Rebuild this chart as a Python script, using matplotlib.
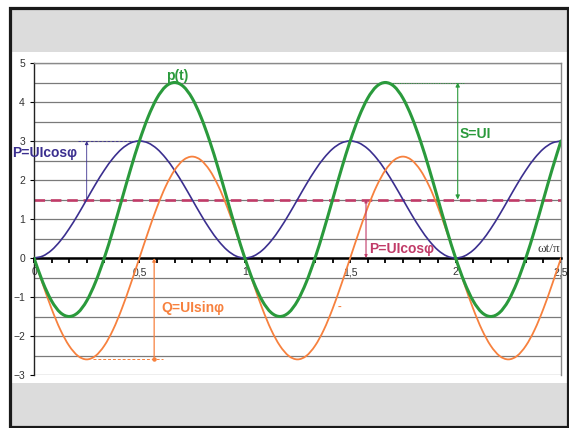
import numpy as np
import matplotlib
matplotlib.use("Agg")
import matplotlib.pyplot as plt
from matplotlib.patches import Rectangle, PathPatch
from matplotlib.path import Path
from matplotlib.ticker import MultipleLocator, FixedLocator

# ---- data (step = 1/24 of omega t / pi) ----
x_start, x_end, n_pts = 0.0, 2.5, 61
p_active = [0, 0.05, 0.20, 0.44, 0.75, 1.11, 1.50, 1.89, 2.25, 2.56, 2.80, 2.95, 3.00,
            2.95, 2.80, 2.56, 2.25, 1.89, 1.50, 1.11, 0.75, 0.44, 0.20, 0.05, 0,
            0.05, 0.20, 0.44, 0.75, 1.11, 1.50, 1.89, 2.25, 2.56, 2.80, 2.95, 3.00,
            2.95, 2.80, 2.56, 2.25, 1.89, 1.50, 1.11, 0.75, 0.44, 0.20, 0.05, 0,
            0.05, 0.20, 0.44, 0.75, 1.11, 1.50, 1.89, 2.25, 2.56, 2.80, 2.95, 3.00]
q_react = [0, -0.67, -1.30, -1.84, -2.25, -2.51, -2.60, -2.51, -2.25, -1.84, -1.30, -0.67, 0,
           0.67, 1.30, 1.84, 2.25, 2.51, 2.60, 2.51, 2.25, 1.84, 1.30, 0.67, 0,
           -0.67, -1.30, -1.84, -2.25, -2.51, -2.60, -2.51, -2.25, -1.84, -1.30, -0.67, 0,
           0.67, 1.30, 1.84, 2.25, 2.51, 2.60, 2.51, 2.25, 1.84, 1.30, 0.67, 0,
           -0.67, -1.30, -1.84, -2.25, -2.51, -2.60, -2.51, -2.25, -1.84, -1.30, -0.67, 0]
p_total = [0, -0.62, -1.10, -1.40, -1.50, -1.40, -1.10, -0.62, 0, 0.72, 1.50, 2.28, 3.00,
           3.62, 4.10, 4.40, 4.50, 4.40, 4.10, 3.62, 3.00, 2.28, 1.50, 0.72, 0,
           -0.62, -1.10, -1.40, -1.50, -1.40, -1.10, -0.62, 0, 0.72, 1.50, 2.28, 3.00,
           3.62, 4.10, 4.40, 4.50, 4.40, 4.10, 3.62, 3.00, 2.28, 1.50, 0.72, 0,
           -0.62, -1.10, -1.40, -1.50, -1.40, -1.10, -0.62, 0, 0.72, 1.50, 2.28, 3.00]
P_avg = 1.5
P_max = 3.0
S_peak = 4.5
Q_min = -2.6
x_tick_vals = [0, 0.5, 1, 1.5, 2, 2.5]
x_tick_labels = ["0", "0,5", "1", "1,5", "2", "2,5"]
y_tick_vals = [-3, -2, -1, 0, 1, 2, 3, 4, 5]

x = np.linspace(x_start, x_end, n_pts)

GREEN = "#2A9A3C"
PURPLE = "#3B2F8F"
ORANGE = "#F7813E"
MAGENTA = "#C13B68"
GRID = "#7A7A7A"

plt.rcParams["font.family"] = ["Liberation Sans", "DejaVu Sans"]

fig = plt.figure(figsize=(5.69, 4.28), dpi=100)
W, H = 569, 428

def fx(px):
    return px / W

def fy(py):
    return 1 - py / H

# slide-like background
fig.patches.append(Rectangle((fx(9.5), fy(52)), fx(557), 43 / H, transform=fig.transFigure,
                             facecolor="#DCDCDC", edgecolor="none", zorder=0))
fig.patches.append(Rectangle((fx(9.5), fy(426)), fx(557), 43 / H, transform=fig.transFigure,
                             facecolor="#DCDCDC", edgecolor="none", zorder=0))
fig.patches.append(Rectangle((fx(9.5), fy(427)), fx(558), 419 / H, transform=fig.transFigure,
                             facecolor="none", edgecolor="#1A1A1A", linewidth=2.3, zorder=1))

ax = fig.add_axes([fx(34), fy(375), fx(561 - 34), (375 - 63) / H])
ax.set_xlim(0, 2.5)
ax.set_ylim(-3, 5)
ax.set_facecolor("white")

# grid lines every 0.5
ax.yaxis.set_major_locator(FixedLocator(y_tick_vals))
ax.yaxis.set_minor_locator(MultipleLocator(0.5))
ax.grid(axis="y", which="both", color=GRID, linewidth=0.9, zorder=0)
ax.tick_params(axis="y", which="minor", length=0)
ax.tick_params(axis="y", which="major", direction="out", length=3, width=0.8,
               labelsize=7.5, labelcolor="#333333", pad=3.5)

# spines
ax.spines["bottom"].set_position(("data", 0))
ax.spines["bottom"].set_linewidth(1.8)
ax.spines["bottom"].set_color("black")
ax.spines["bottom"].set_zorder(3)
ax.spines["left"].set_color("#222222")
ax.spines["left"].set_linewidth(1.0)
for s in ("top", "right"):
    ax.spines[s].set_color("#8A8A8A")
    ax.spines[s].set_linewidth(1.0)

ax.set_xticks(x_tick_vals)
ax.set_xticklabels(x_tick_labels)
ax.xaxis.set_minor_locator(MultipleLocator(1 / 12))
ax.tick_params(axis="x", which="both", direction="out", length=3.5, width=1.3,
               color="black", labelsize=7.5, labelcolor="#333333", pad=3)

# reference dashed line at P average
ax.axhline(P_avg, color=MAGENTA, linewidth=1.9, linestyle=(0, (4, 2.2)), zorder=2)


def smooth_line(xs, ys, color, lw, z):
    """Excel-style smoothed line: cubic Bezier segments through every data point."""
    xs = np.asarray(xs, float)
    ys = np.asarray(ys, float)
    pts = np.column_stack([xs, ys])
    n = len(pts)
    verts = [pts[0]]
    codes = [Path.MOVETO]
    for i in range(n - 1):
        p0 = pts[max(i - 1, 0)]
        p1 = pts[i]
        p2 = pts[i + 1]
        p3 = pts[min(i + 2, n - 1)]
        c1 = p1 + (p2 - p0) / 6.0
        c2 = p2 - (p3 - p1) / 6.0
        verts += [c1, c2, p2]
        codes += [Path.CURVE4] * 3
    patch = PathPatch(Path(verts, codes), facecolor="none", edgecolor=color,
                      linewidth=lw, zorder=z, capstyle="round", joinstyle="round")
    ax.add_patch(patch)


# curves
smooth_line(x, p_active, PURPLE, 1.2, 4)
smooth_line(x, q_react, ORANGE, 1.3, 4)
smooth_line(x, p_total, GREEN, 2.2, 5)

# helper lines and arrows
ax.plot([0.21, 0.5], [P_max, P_max], color=PURPLE, linewidth=0.6, linestyle=(0, (3, 2)), zorder=3)
ax.annotate("", xy=(0.25, P_max), xytext=(0.25, P_avg),
            arrowprops=dict(arrowstyle="-|>", color=PURPLE, lw=0.6, mutation_scale=5,
                            shrinkA=0, shrinkB=0), zorder=6)

ax.plot([1.667, 2.04], [S_peak, S_peak], color=GREEN, linewidth=0.7, linestyle=(0, (1, 1.5)), zorder=3)
ax.annotate("", xy=(2.01, S_peak), xytext=(2.01, P_avg),
            arrowprops=dict(arrowstyle="<|-|>", color=GREEN, lw=0.8, mutation_scale=6,
                            shrinkA=0, shrinkB=0), zorder=6)

ax.annotate("", xy=(1.575, P_avg), xytext=(1.575, 0),
            arrowprops=dict(arrowstyle="<|-|>", color=MAGENTA, lw=0.8, mutation_scale=4,
                            shrinkA=0, shrinkB=0), zorder=6)

ax.plot([0.28, 0.61], [Q_min, Q_min], color=ORANGE, linewidth=0.7, linestyle=(0, (3, 2)), zorder=3)
ax.annotate("", xy=(0.57, 0), xytext=(0.57, Q_min),
            arrowprops=dict(arrowstyle="-|>", color=ORANGE, lw=0.9, mutation_scale=5,
                            shrinkA=0, shrinkB=0), zorder=6)
ax.plot([0.57], [Q_min], marker="o", markersize=2.2, color=ORANGE, zorder=6)

# texts
ax.text(0.678, 4.67, "p(t)", color=GREEN, fontsize=10, fontweight="bold",
        ha="center", va="center", zorder=7)
ax.text(-0.105, 2.69, "P=UIcosφ", color=PURPLE, fontsize=10, fontweight="bold",
        ha="left", va="center", clip_on=False, zorder=7)
ax.text(2.021, 3.18, "S=UI", color=GREEN, fontsize=10, fontweight="bold",
        ha="left", va="center", zorder=7)
ax.text(1.589, 0.22, "P=UIcosφ", color=MAGENTA, fontsize=10, fontweight="bold",
        ha="left", va="center", zorder=7)
ax.text(0.602, -1.28, "Q=UIsinφ", color=ORANGE, fontsize=10, fontweight="bold",
        ha="left", va="center", zorder=7)
ax.text(1.447, -1.26, "-", color=ORANGE, fontsize=8, fontweight="bold",
        ha="center", va="center", zorder=7)
ax.text(2.495, 0.23, "ωt/π", color="#404040", fontsize=9.5, ha="right", va="center",
        family=["Liberation Serif", "DejaVu Serif"], zorder=7)

fig.savefig("out.png", dpi=100)
